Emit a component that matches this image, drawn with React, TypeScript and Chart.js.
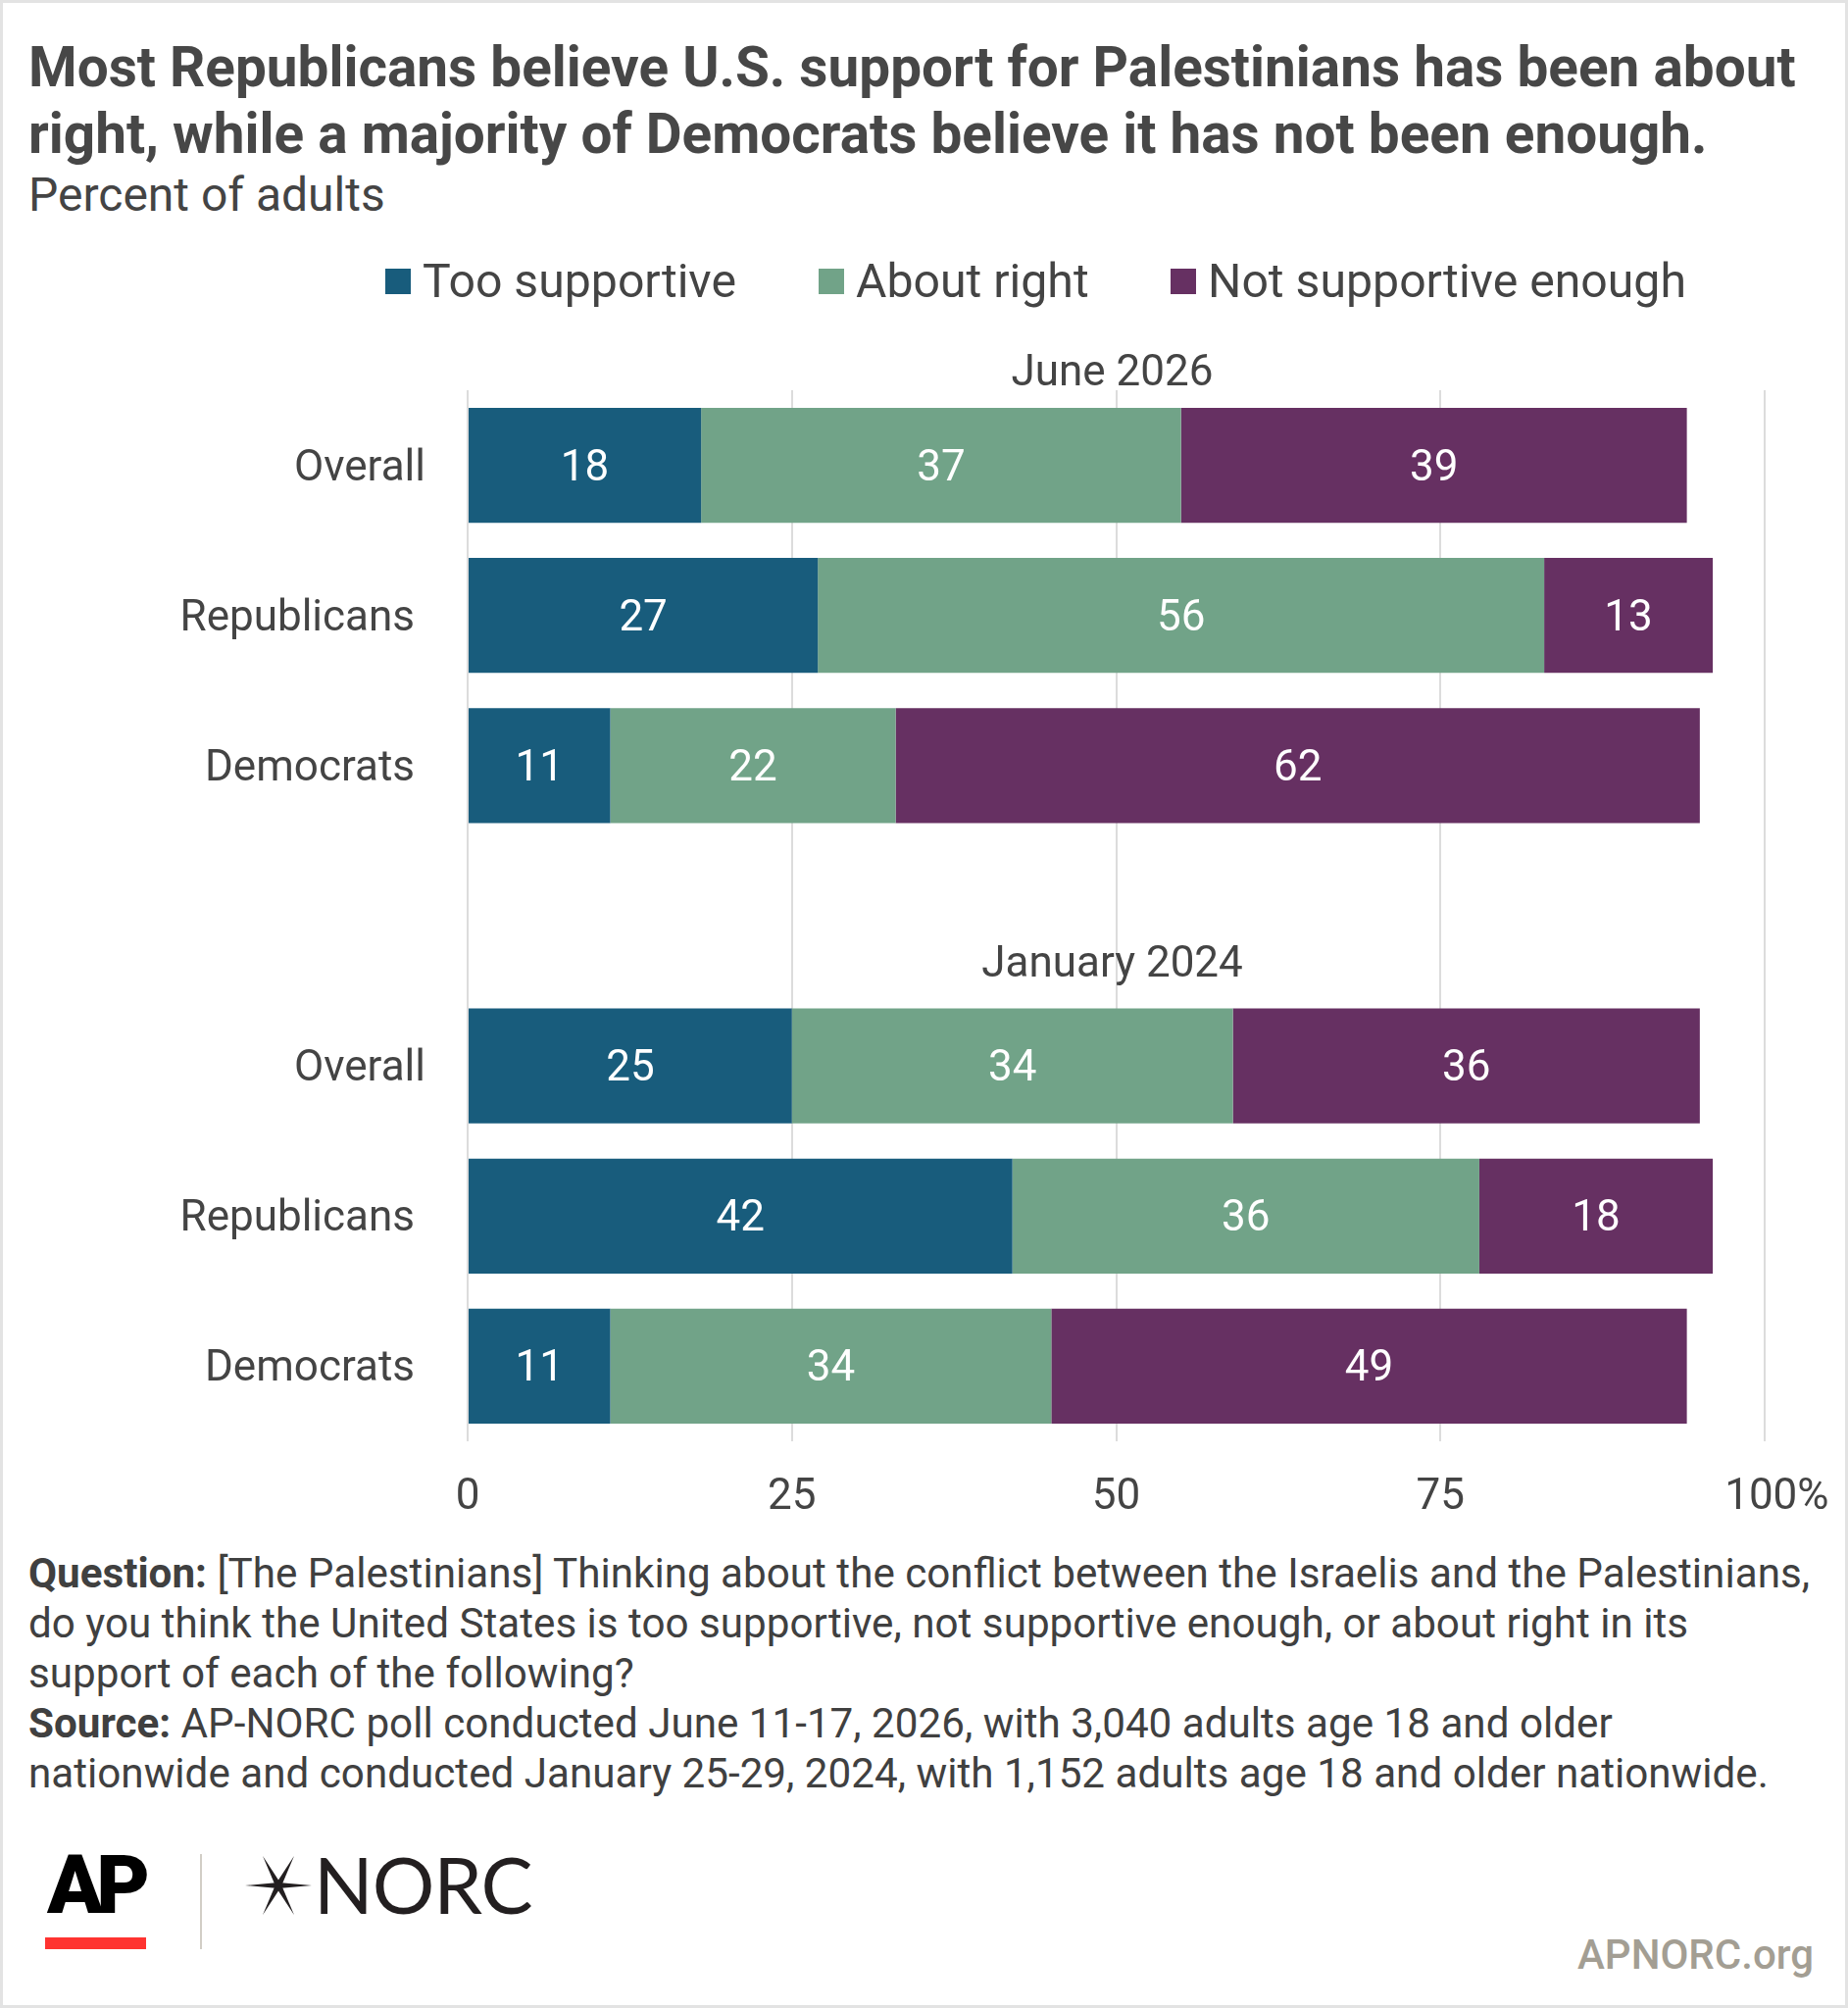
import React, { useEffect, useRef } from "react";
import { Chart, registerables } from "chart.js";

Chart.register(...registerables);

const categories = ["Overall", "Republicans", "Democrats", "", "Overall", "Republicans", "Democrats"];
const tooSupportive = [18, 27, 11, null, 25, 42, 11];
const aboutRight = [37, 56, 22, null, 34, 36, 34];
const notEnough = [39, 13, 62, null, 36, 18, 49];
const seriesNames = ["Too supportive", "About right", "Not supportive enough"];
const seriesColors = ["#185c7c", "#71a388", "#663062"];
const xTicks = [0, 25, 50, 75, 100];
const xTickLabels = ["0", "25", "50", "75", "\u2007100%"];
const groupLabels = ["June 2026", "January 2024"];

const FONT = "Roboto, 'Noto Sans', sans-serif";
const TEXT = "#444444";

const CANVAS_TOP = 300;
const CANVAS_W = 1905;
const CANVAS_H = 1270;
const AREA_TOP = 398;
const AREA_BOTTOM = 1470;
const AREA_LEFT = 477;
const AREA_RIGHT = 1800;

const valueLabelPlugin = {
  id: "valueLabels",
  afterDatasetsDraw(chart: any) {
    const ctx = chart.ctx;
    ctx.save();
    ctx.font = `400 44px ${FONT}`;
    ctx.fillStyle = "#ffffff";
    ctx.textAlign = "center";
    ctx.textBaseline = "middle";
    chart.data.datasets.forEach((ds: any, di: number) => {
      const meta = chart.getDatasetMeta(di);
      meta.data.forEach((el: any, i: number) => {
        const v = ds.data[i];
        if (v === null || v === undefined) return;
        const cx = (el.x + el.base) / 2;
        ctx.fillText(String(v), cx, el.y + 4);
      });
    });
    ctx.restore();
  },
};

// category labels drawn from the y scale (the "Overall" rows sit slightly further right in the reference)
const categoryLabelPlugin = {
  id: "categoryLabels",
  afterDraw(chart: any) {
    const ctx = chart.ctx;
    const y = chart.scales.y;
    ctx.save();
    ctx.font = `400 44px ${FONT}`;
    ctx.fillStyle = TEXT;
    ctx.textAlign = "right";
    ctx.textBaseline = "middle";
    const labels = chart.data.labels as string[];
    labels.forEach((lab, i) => {
      if (!lab) return;
      const shift = lab === "Overall" ? 11 : 0;
      ctx.fillText(lab, y.right - 54 + shift, y.getPixelForValue(i) + 4);
    });
    ctx.restore();
  },
};

const groupLabelPlugin = {
  id: "groupLabels",
  afterDraw(chart: any) {
    const ctx = chart.ctx;
    const area = chart.chartArea;
    const y = chart.scales.y;
    const cx = (area.left + area.right) / 2;
    ctx.save();
    ctx.font = `400 44px ${FONT}`;
    ctx.fillStyle = TEXT;
    ctx.textAlign = "center";
    ctx.textBaseline = "middle";
    ctx.fillText(groupLabels[0], cx - 4, area.top - 16);
    ctx.fillText(groupLabels[1], cx - 4, y.getPixelForValue(3) + 51);
    ctx.restore();
  },
};

function Star() {
  const spikes = [0, 62, 118, 180, 242, 298];
  const cx = 36, cy = 31;
  const lens = [34, 34, 34, 34, 34, 34];
  return (
    <svg width="72" height="62" viewBox="0 0 72 62" style={{ position: "absolute", left: 245, top: 1889 }}>
      {spikes.map((a, i) => {
        const r = (a * Math.PI) / 180;
        const L = lens[i];
        const tx = cx + Math.cos(r) * L;
        const ty = cy - Math.sin(r) * L;
        const w = 3;
        const px = -Math.sin(r) * w;
        const py = -Math.cos(r) * w;
        return (
          <polygon
            key={i}
            points={`${cx + px},${cy + py} ${tx},${ty} ${cx - px},${cy - py}`}
            fill="#231f20"
          />
        );
      })}
      <circle cx={cx} cy={cy} r={3.2} fill="#231f20" />
    </svg>
  );
}

export default function App() {
  const canvasRef = useRef<HTMLCanvasElement | null>(null);

  useEffect(() => {
    const canvas = canvasRef.current;
    if (!canvas) return;
    const chart = new Chart(canvas, {
      type: "bar",
      data: {
        labels: categories,
        datasets: [tooSupportive, aboutRight, notEnough].map((d, i) => ({
          label: seriesNames[i],
          data: d,
          backgroundColor: seriesColors[i],
          borderWidth: 0,
          barPercentage: 0.766,
          categoryPercentage: 1,
        })),
      },
      options: {
        indexAxis: "y",
        responsive: false,
        animation: false,
        layout: {
          padding: {
            top: AREA_TOP - CANVAS_TOP,
            right: CANVAS_W - AREA_RIGHT,
            left: 0,
            bottom: 0,
          },
        },
        plugins: {
          legend: { display: false },
          tooltip: { enabled: false },
          title: { display: false },
        },
        scales: {
          x: {
            stacked: true,
            min: 0,
            max: 100,
            afterFit: (s: any) => {
              s.height = CANVAS_TOP + CANVAS_H - AREA_BOTTOM;
            },
            afterBuildTicks: (s: any) => {
              s.ticks = xTicks.map((v) => ({ value: v }));
            },
            ticks: {
              callback: (v: any) => xTickLabels[xTicks.indexOf(Number(v))],
              font: { family: FONT, size: 44 },
              color: TEXT,
              padding: 32,
              maxRotation: 0,
              autoSkip: false,
            },
            grid: { color: "#dcdcdc", lineWidth: 2, drawTicks: false },
            border: { display: false },
          },
          y: {
            stacked: true,
            afterFit: (s: any) => {
              s.width = AREA_LEFT;
            },
            ticks: { display: false },
            grid: { display: false, drawTicks: false },
            border: { display: false },
          },
        },
      },
      plugins: [valueLabelPlugin, categoryLabelPlugin, groupLabelPlugin],
    } as any);
    return () => chart.destroy();
  }, []);

  const abs = (s: React.CSSProperties): React.CSSProperties => ({ position: "absolute", ...s });

  return (
    <div
      style={{
        position: "absolute",
        left: 0,
        top: 0,
        width: 1885,
        height: 2048,
        boxSizing: "border-box",
        border: "3px solid #e3e3e3",
        background: "#ffffff",
        fontFamily: FONT,
        color: TEXT,
        overflow: "hidden",
      }}
    >
      <div style={abs({ left: 26, top: 32, fontSize: 56.7, fontWeight: 700, lineHeight: "68px", whiteSpace: "nowrap", color: "#474747" })}>
        Most Republicans believe U.S. support for Palestinians has been about
        <br />
        right, while a majority of Democrats believe it has not been enough.
      </div>
      <div style={abs({ left: 26, top: 172, fontSize: 48, lineHeight: "48px", whiteSpace: "nowrap" })}>Percent of adults</div>

      {seriesNames.map((n, i) => {
        const lefts = [390, 832, 1191];
        return (
          <div key={n} style={abs({ left: lefts[i], top: 259, height: 50, display: "flex", alignItems: "center", whiteSpace: "nowrap" })}>
            <span style={{ display: "inline-block", width: 26, height: 26, background: seriesColors[i], marginRight: 12 }} />
            <span style={{ fontSize: 48.2, lineHeight: "50px" }}>{n}</span>
          </div>
        );
      })}

      <canvas
        ref={canvasRef}
        width={CANVAS_W}
        height={CANVAS_H}
        style={abs({ left: -3, top: CANVAS_TOP - 3, width: CANVAS_W, height: CANVAS_H })}
      />

      <div style={abs({ left: 26, top: 1576, fontSize: 42.2, lineHeight: "51px", whiteSpace: "nowrap", color: "#404040" })}>
        <b>Question:</b> [The Palestinians] Thinking about the conflict between the Israelis and the Palestinians,
        <br />
        do you think the United States is too supportive, not supportive enough, or about right in its
        <br />
        support of each of the following?
        <br />
        <b>Source:</b> AP-NORC poll conducted June 11-17, 2026, with 3,040 adults age 18 and older
        <br />
        nationwide and conducted January 25-29, 2024, with 1,152 adults age 18 and older nationwide.
      </div>

      <div style={abs({ left: 45, top: 1870, fontSize: 84, fontWeight: 900, letterSpacing: -7, color: "#000", lineHeight: "100px", fontFamily: "Roboto, sans-serif" })}>AP</div>
      <div style={abs({ left: 43, top: 1973, width: 103, height: 12, background: "#ff3330" })} />
      <div style={abs({ left: 201, top: 1888, width: 2, height: 97, background: "#d2cec6" })} />
      <Star />
      <div style={abs({ left: 317, top: 1869, fontSize: 79.5, fontWeight: 400, color: "#231f20", lineHeight: "100px", fontFamily: "Lato, sans-serif", letterSpacing: -1 })}>NORC</div>
      <div style={abs({ right: 32, top: 1966, fontSize: 42, fontWeight: 500, color: "#a39e93", lineHeight: "50px" })}>APNORC.org</div>
    </div>
  );
}
